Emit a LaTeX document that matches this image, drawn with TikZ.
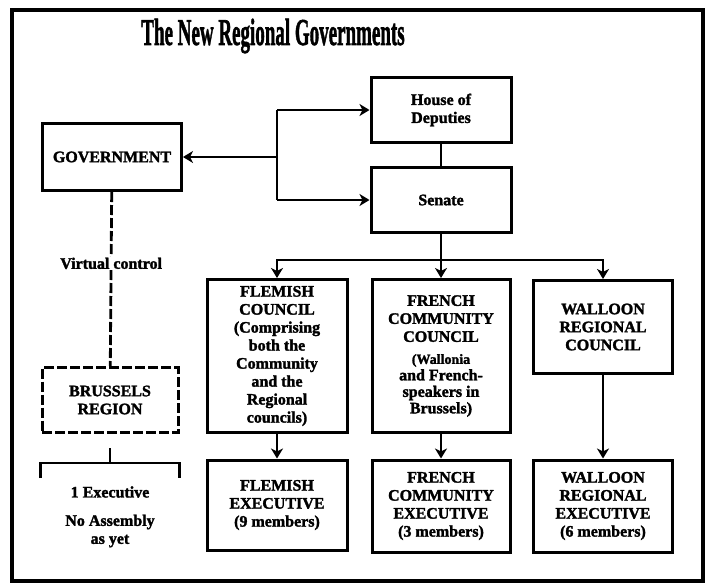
\documentclass[tikz,border=0pt]{standalone}
\usepackage{fontspec}
\setmainfont{Liberation Serif}[BoldFeatures={FakeBold=1.8}]
\usetikzlibrary{positioning,arrows.meta,calc}

\tikzset{
  box/.style={draw,line width=3pt,align=center,inner sep=2pt,
    font=\bfseries\fontsize{16}{18}\selectfont},
  dbox/.style={box,dash pattern=on 10pt off 3pt},
  link/.style={line width=2.8pt},
  arr/.style={link,-{Stealth[length=10pt,width=12pt,inset=3pt]}},
  note/.style={font=\bfseries\fontsize{16}{18}\selectfont,align=center,inner sep=1pt}
}
% smaller type for the bracketed remarks
\newcommand{\asidefont}{\fontsize{14}{15}\selectfont}

\begin{document}
\begin{tikzpicture}[x=1pt,y=-1pt]
\useasboundingbox (0,0) rectangle (707,584);
% frame and heading
\draw[line width=3.2pt] (12,10) rectangle (703,581);
\node (title) at (273,36) {\scalebox{0.5}[1]{\bfseries\fontsize{38}{40}\selectfont The New Regional Governments}};

% national level
\node[box,minimum width=140pt,minimum height=65pt] (house) at (441,110) {House of\\Deputies};
\node[box,minimum width=140pt,minimum height=65pt] (senate) at (441,200) {Senate};
\node[box,minimum width=139pt,minimum height=67pt] (gov) at (112,157) {GOVERNMENT};

% Brussels
\node[dbox,minimum width=136pt,minimum height=65pt] (brussels) at (110,400) {BRUSSELS\\REGION};
\node[note] (execnote) at (110,492) {1 Executive};
\node[note] (assemblynote) at (110,531) {No Assembly\\as yet};

% councils
\node[box,minimum width=140pt,minimum height=153pt] (flemishc) at (277,356)
  {FLEMISH\\COUNCIL\\(Comprising\\both the\\Community\\and the\\Regional\\councils)};
\node[box,minimum width=138pt,minimum height=153pt] (frenchc) at (441,356)
  {FRENCH\\COMMUNITY\\COUNCIL\\[4pt]\asidefont (Wallonia\\[-1.5pt]and French-\\[-1.5pt]speakers in\\[-1.5pt]Brussels)};
\node[box,minimum width=139pt,minimum height=93pt] (walloonc) at (603,327) {WALLOON\\REGIONAL\\COUNCIL};

% executives
\node[box,minimum width=140pt,minimum height=90pt] (flemishe) at (277,505) {FLEMISH\\EXECUTIVE\\(9 members)};
\node[box,minimum width=138pt,minimum height=92pt] (frenche) at (441,506) {FRENCH\\COMMUNITY\\EXECUTIVE\\(3 members)};
\node[box,minimum width=139pt,minimum height=92pt] (walloone) at (603,506) {WALLOON\\REGIONAL\\EXECUTIVE\\(6 members)};

% connectors
\coordinate (split) at (277,157);
\coordinate (bus) at (441,260);
\draw[link] (split |- house) -- (split |- senate);
\draw[arr] (split) -- (gov);
\draw[arr] (split |- house) -- (house);
\draw[arr] (split |- senate) -- (senate);
\draw[link] (house) -- (senate);
\draw[link] (senate) -- (bus);
\draw[arr] (bus) -| (flemishc);
\draw[arr] (bus) -- (frenchc);
\draw[arr] (bus) -| (walloonc);
\draw[arr] (flemishc) -- (flemishe);
\draw[arr] (frenchc) -- (frenche);
\draw[arr] (walloonc) -- (walloone);
\draw[link,dash pattern=on 10pt off 3pt] (gov) -- node[note,fill=white,pos=0.41] (ctrl) {Virtual control} (brussels);

% bracket under Brussels
\coordinate (tick) at (110,448);
\draw[link] (tick) -- (tick |- 0,463);
\draw[link] (brussels.west |- 0,478) -- (brussels.west |- 0,463) -- (brussels.east |- 0,463) -- (brussels.east |- 0,478);
\end{tikzpicture}
\end{document}
